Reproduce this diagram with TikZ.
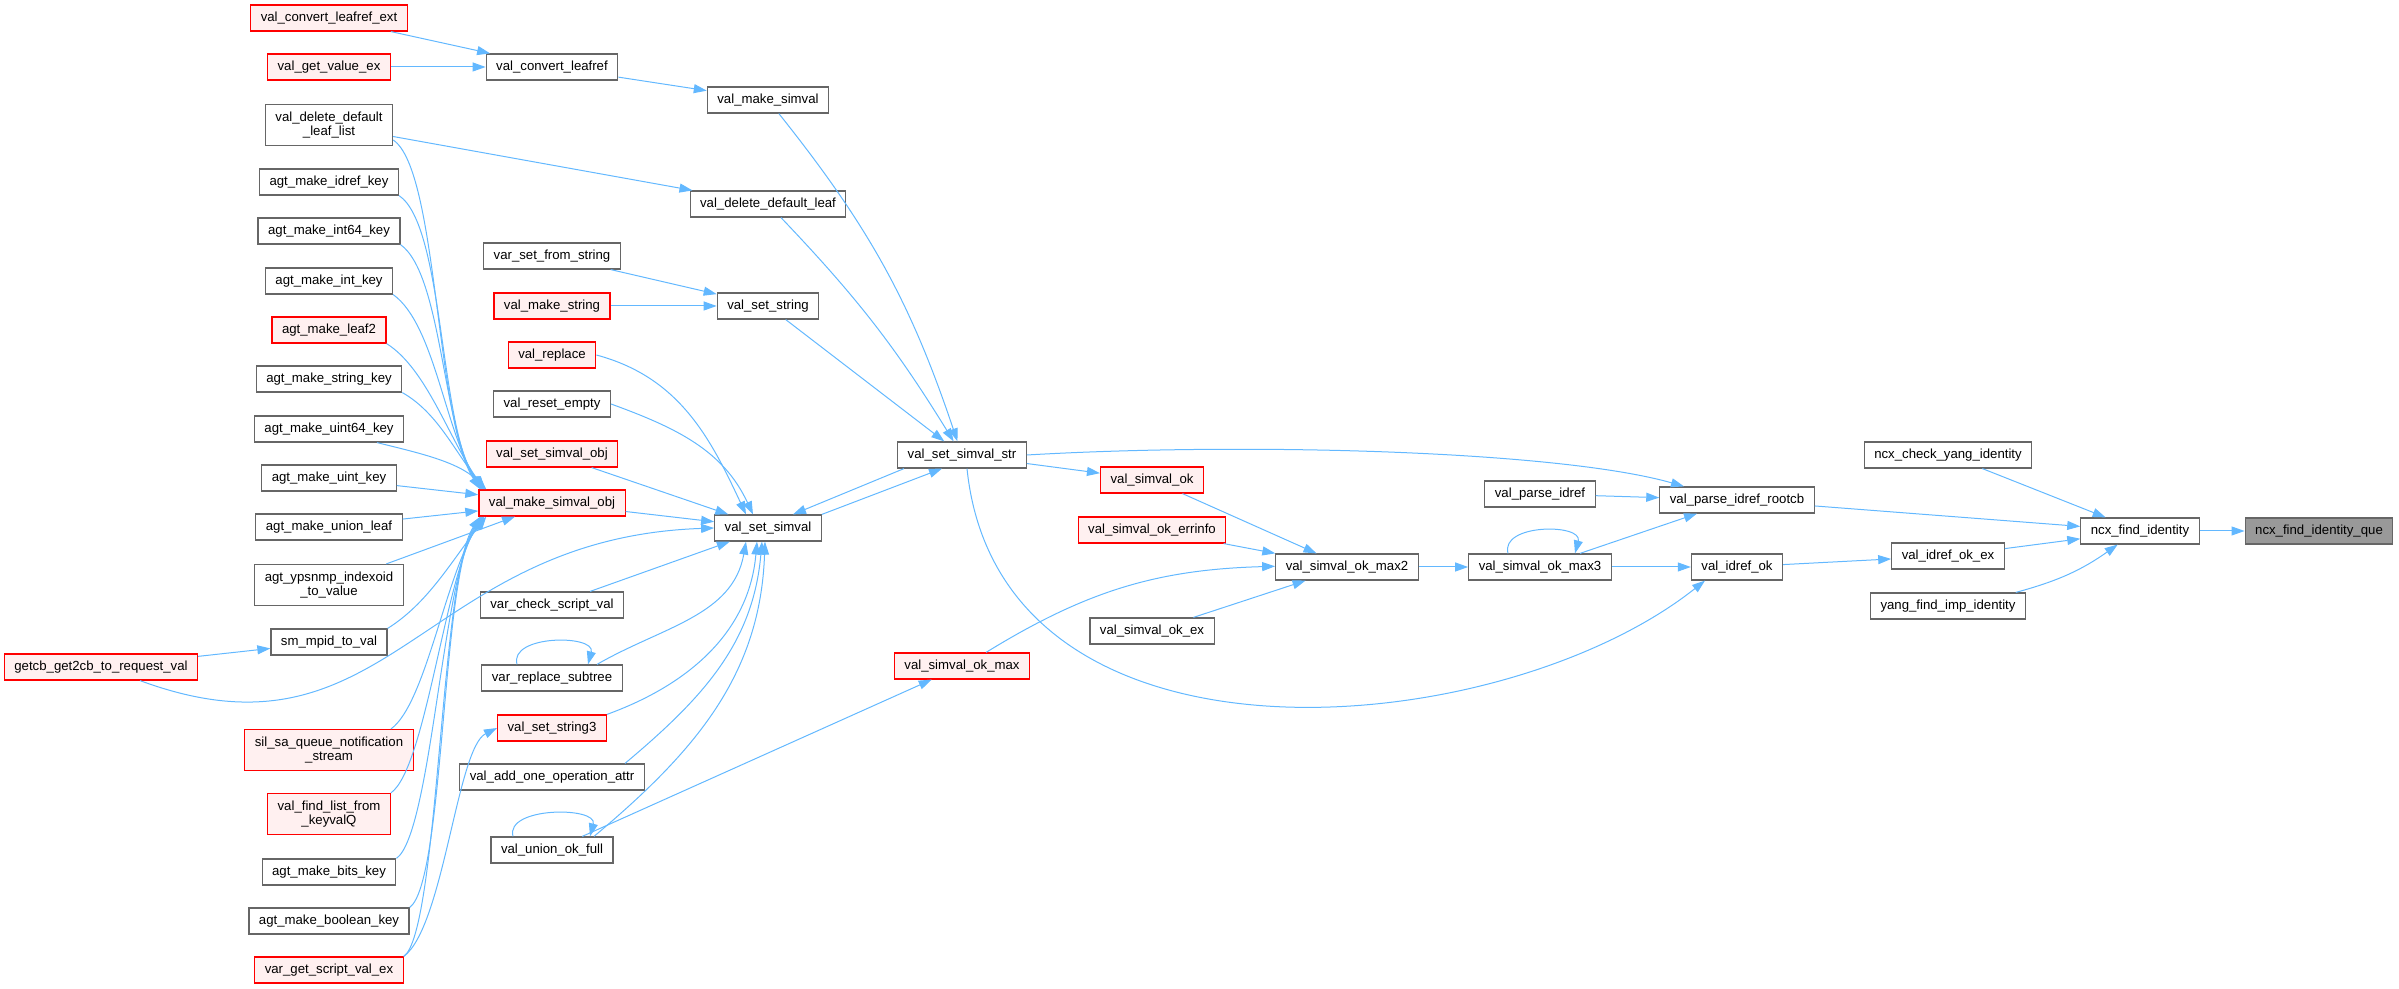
\documentclass[tikz,border=0pt]{standalone}
\usepackage{fontspec}
\setmainfont{Liberation Sans}
\usepackage{xcolor}
\usetikzlibrary{arrows.meta}
\definecolor{edgeblue}{HTML}{63B8FF}
\definecolor{boxgrey}{HTML}{666666}
\definecolor{rootgrey}{HTML}{999999}
\definecolor{redfill}{HTML}{FFF0F0}
\definecolor{boxred}{HTML}{FF0000}

\begin{document}
\begin{tikzpicture}[x=1pt,y=1pt]
			\tikzset{fn/.style={draw=boxgrey, fill=white, line width=1.2pt, inner xsep=10pt, inner ysep=0pt,
					minimum height=26pt, align=center, font=\fontsize{13.2}{14.5}\selectfont}}
			\tikzset{fnred/.style={fn, draw=boxred, fill=redfill}}
			\tikzset{fnroot/.style={fn, fill=rootgrey}}
			\tikzset{twoline/.style={minimum height=41pt}}
			\tikzset{calls/.style={draw=edgeblue, line width=1pt, -{Triangle[length=13pt,width=9pt]}}}
			\useasboundingbox (0,0) rectangle (2399,988);
			% callers, left to right
			\node[fnred] (getcb) at (101,321) {getcb\_get2cb\_to\_request\_val};
			\node[fnred] (convext) at (329,970) {val\_convert\_leafref\_ext};
			\node[fnred] (getvalex) at (329,921) {val\_get\_value\_ex};
			\node[fn, twoline] (deldeflist) at (329,863) {val\_delete\_default\\\_leaf\_list};
			\node[fn] (mkidref) at (329,806) {agt\_make\_idref\_key};
			\node[fn] (mkint64) at (329,757) {agt\_make\_int64\_key};
			\node[fn] (mkint) at (329,707) {agt\_make\_int\_key};
			\node[fnred] (mkleaf2) at (329,658) {agt\_make\_leaf2};
			\node[fn] (mkstring) at (329,609) {agt\_make\_string\_key};
			\node[fn] (mkuint64) at (329,559) {agt\_make\_uint64\_key};
			\node[fn] (mkuint) at (329,510) {agt\_make\_uint\_key};
			\node[fn] (mkunion) at (329,461) {agt\_make\_union\_leaf};
			\node[fn, twoline] (ypsnmp) at (329,403) {agt\_ypsnmp\_indexoid\\\_to\_value};
			\node[fn] (mpid) at (329,346) {sm\_mpid\_to\_val};
			\node[fnred, twoline] (silsa) at (329,238) {sil\_sa\_queue\_notification\\\_stream};
			\node[fnred, twoline] (findlist) at (329,174) {val\_find\_list\_from\\\_keyvalQ};
			\node[fn] (mkbits) at (329,116) {agt\_make\_bits\_key};
			\node[fn] (mkbool) at (329,67) {agt\_make\_boolean\_key};
			\node[fnred] (getscript) at (329,18) {var\_get\_script\_val\_ex};
			\node[fn] (convleafref) at (552,921) {val\_convert\_leafref};
			\node[fn] (setfromstr) at (552,732) {var\_set\_from\_string};
			\node[fnred] (mkstr) at (552,682) {val\_make\_string};
			\node[fnred] (replace) at (552,633) {val\_replace};
			\node[fn] (reset) at (552,584) {val\_reset\_empty};
			\node[fnred] (setsimvalobj) at (552,534) {val\_set\_simval\_obj};
			\node[fnred] (mksimvalobj) at (552,485) {val\_make\_simval\_obj};
			\node[fn] (checkscript) at (552,383) {var\_check\_script\_val};
			\node[fn] (replsubtree) at (552,310) {var\_replace\_subtree};
			\node[fnred] (setstr3) at (552,260) {val\_set\_string3};
			\node[fn] (addop) at (552,211) {val\_add\_one\_operation\_attr};
			\node[fn] (unionok) at (552,138) {val\_union\_ok\_full};
			\node[fn] (mksimval) at (768,888) {val\_make\_simval};
			\node[fn] (deldefleaf) at (768,784) {val\_delete\_default\_leaf};
			\node[fn] (setstring) at (768,682) {val\_set\_string};
			\node[fn] (setsimval) at (768,460) {val\_set\_simval};
			\node[fn] (setsimvalstr) at (962,533) {val\_set\_simval\_str};
			\node[fnred] (okmax) at (962,322) {val\_simval\_ok\_max};
			\node[fnred] (simvalok) at (1152,508) {val\_simval\_ok};
			\node[fnred] (okerrinfo) at (1152,458) {val\_simval\_ok\_errinfo};
			\node[fn] (okex) at (1152,357) {val\_simval\_ok\_ex};
			\node[fn] (okmax2) at (1347,421) {val\_simval\_ok\_max2};
			\node[fn] (parseidref) at (1540,494) {val\_parse\_idref};
			\node[fn] (okmax3) at (1540,421) {val\_simval\_ok\_max3};
			\node[fn] (rootcb) at (1737,488) {val\_parse\_idref\_rootcb};
			\node[fn] (idrefok) at (1737,421) {val\_idref\_ok};
			\node[fn] (checkyang) at (1948,533) {ncx\_check\_yang\_identity};
			\node[fn] (idrefokex) at (1948,432) {val\_idref\_ok\_ex};
			\node[fn] (yangimp) at (1948,382) {yang\_find\_imp\_identity};
			\node[fn] (findid) at (2140,457) {ncx\_find\_identity};
			\node[fnroot] (que) at (2319,457) {ncx\_find\_identity\_que};
			% right part
			\draw[calls] (findid) -- (que);
			\draw[calls] (checkyang) -- (findid);
			\draw[calls] (rootcb) -- (findid);
			\draw[calls] (idrefokex) -- (findid);
			\draw[calls] (yangimp) to[bend right=10] (findid);
			\draw[calls] (parseidref) -- (rootcb);
			\draw[calls] (okmax3) -- (rootcb);
			\draw[calls] (okmax3) -- (idrefok);
			\draw[calls] (idrefok) -- (idrefokex);
			\draw[calls] ([xshift=-32pt]okmax3.north) .. controls +(-8,30) and +(8,30) .. ([xshift=35pt]okmax3.north);
			\draw[calls] (okmax2) -- (okmax3);
			\draw[calls] (simvalok) -- (okmax2);
			\draw[calls] (okerrinfo) -- (okmax2);
			\draw[calls] (okex) -- (okmax2);
			\draw[calls] (okmax) to[bend left=15] (okmax2);
			\draw[calls] (unionok) -- (okmax);
			\draw[calls] (setsimvalstr) -- (simvalok);
			\draw[calls] (setsimvalstr.east) .. controls (1250,546) and (1560,537) .. ([xshift=-53pt]rootcb.north);
			\draw[calls] ([xshift=5pt]setsimvalstr.south) .. controls (1000,200) and (1500,245) .. ([xshift=-32pt]idrefok.south);
			% middle
			\draw[calls] (mksimval) to[bend left=10] (setsimvalstr);
			\draw[calls] (deldefleaf) to[bend left=6] (setsimvalstr);
			\draw[calls] (setstring) -- (setsimvalstr);
			\draw[calls] (setsimval.north east) -- ([xshift=-20pt]setsimvalstr.south);
			\draw[calls] ([xshift=-58pt]setsimvalstr.south) -- ([xshift=25pt]setsimval.north);
			\draw[calls] (convleafref) -- (mksimval);
			\draw[calls] (convext) -- (convleafref);
			\draw[calls] (getvalex) -- (convleafref);
			\draw[calls] (deldeflist) -- (deldefleaf);
			\draw[calls] (setfromstr) -- (setstring);
			\draw[calls] (mkstr) -- (setstring);
			\draw[calls] (replace.east) to[out=-15,in=115] ([xshift=-22pt]setsimval.north);
			\draw[calls] (reset.east) to[out=-20,in=115] ([xshift=-15pt]setsimval.north);
			\draw[calls] (setsimvalobj) -- (setsimval);
			\draw[calls] (mksimvalobj) -- (setsimval);
			\draw[calls] ([xshift=39pt]getcb.south) .. controls (390,215) and (420,450) .. (setsimval.west);
			\draw[calls] (checkscript) -- (setsimval);
			\draw[calls] ([xshift=45pt]replsubtree.north) to[out=30,in=-100] ([xshift=-22pt]setsimval.south);
			\draw[calls] ([xshift=-35pt]replsubtree.north) .. controls +(-8,30) and +(8,30) .. ([xshift=36pt]replsubtree.north);
			\draw[calls] (setstr3.north east) to[out=20,in=-95] ([xshift=-11pt]setsimval.south);
			\draw[calls] ([xshift=73pt]addop.north) to[out=40,in=-95] ([xshift=-6pt]setsimval.south);
			\draw[calls] ([xshift=42pt]unionok.north) to[out=40,in=-92] ([xshift=-3pt]setsimval.south);
			\draw[calls] ([xshift=-39pt]unionok.north) .. controls +(-8,30) and +(8,30) .. ([xshift=38pt]unionok.north);
			% into val_make_simval_obj
			\draw[calls] ([yshift=-15pt]deldeflist.east) .. controls +(45,-30) and +(-45,70) .. ([xshift=2pt]mksimvalobj.north west);
			\draw[calls] (mkidref.south east) .. controls +(45,-30) and +(-42,65) .. ([xshift=3pt]mksimvalobj.north west);
			\draw[calls] (mkint64.south east) .. controls +(42,-30) and +(-40,60) .. ([xshift=4pt]mksimvalobj.north west);
			\draw[calls] (mkint.south east) .. controls +(42,-30) and +(-38,55) .. ([xshift=5pt]mksimvalobj.north west);
			\draw[calls] (mkleaf2.south east) .. controls +(40,-25) and +(-35,50) .. ([xshift=6pt]mksimvalobj.north west);
			\draw[calls] (mkstring.south east) .. controls +(35,-20) and +(-32,40) .. ([xshift=7pt]mksimvalobj.north west);
			\draw[calls] ([xshift=48pt]mkuint64.south) .. controls +(40,-10) and +(-28,28) .. ([xshift=8pt]mksimvalobj.north west);
			\draw[calls] (mkuint) -- (mksimvalobj);
			\draw[calls] (mkunion) -- (mksimvalobj);
			\draw[calls] (ypsnmp) -- (mksimvalobj);
			\draw[calls] (mpid.north east) .. controls +(40,25) and +(-35,-45) .. ([xshift=8pt]mksimvalobj.south west);
			\draw[calls] ([xshift=62pt]silsa.north) .. controls +(35,25) and +(-38,-55) .. ([xshift=6pt]mksimvalobj.south west);
			\draw[calls] (findlist.north east) .. controls +(35,25) and +(-38,-58) .. ([xshift=5pt]mksimvalobj.south west);
			\draw[calls] (mkbits.north east) .. controls +(35,25) and +(-40,-60) .. ([xshift=4pt]mksimvalobj.south west);
			\draw[calls] (mkbool.north east) .. controls +(35,25) and +(-40,-60) .. ([xshift=3pt]mksimvalobj.south west);
			\draw[calls] (getscript.north east) .. controls +(35,25) and +(-40,-60) .. ([xshift=2pt]mksimvalobj.south west);
			\draw[calls] (getscript.north east) .. controls +(40,30) and +(-40,-20) .. (setstr3.west);
			\draw[calls] (getcb) -- (mpid);
\end{tikzpicture}
\end{document}
